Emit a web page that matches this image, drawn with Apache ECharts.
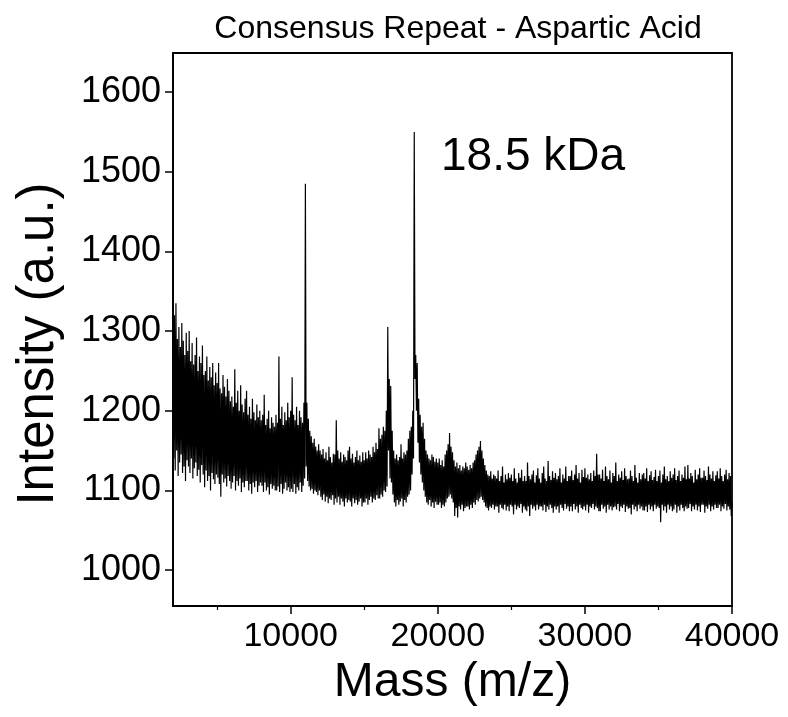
<!DOCTYPE html>
<html><head><meta charset="utf-8">
<script src="https://cdn.jsdelivr.net/npm/echarts@6/dist/echarts.min.js"></script>
<style>html,body{margin:0;padding:0;background:#fff}#c{width:788px;height:717px}</style>
</head><body><div id="c"></div>
<script>
const titleText = 'Consensus Repeat - Aspartic Acid';
const xAxisName = 'Mass (m/z)';
const yAxisName = 'Intensity (a.u.)';
const peakLabel = '18.5 kDa';
const massStart = 2000;
const massStep = 50;
const xTickValues = [10000, 20000, 30000, 40000];
const xMinorTickValues = [5000, 15000, 25000, 35000];
const yTickValues = [1000, 1100, 1200, 1300, 1400, 1500, 1600];
// intensity read every 50 Da from 2000 to 40000 (one row per 1000 Da; alternating upper / lower edge of the noise)
const intensity = [
1295,1140,1320,1125,1335,1150,1290,1118,1305,1135,1280,1145,1310,1122,1288,1130,1270,1112,1298,1138,
1275,1130,1300,1122,1262,1140,1285,1115,1258,1128,1270,1135,1292,1118,1250,1126,1268,1110,1260,1132,
1282,1120,1245,1104,1250,1125,1268,1112,1238,1118,1255,1100,1242,1122,1260,1114,1232,1108,1248,1120,
1235,1116,1260,1108,1228,1092,1222,1120,1245,1110,1230,1115,1218,1105,1240,1118,1225,1112,1212,1102,
1218,1110,1205,1118,1252,1100,1210,1112,1225,1106,1200,1115,1232,1098,1208,1110,1198,1104,1215,1112,
1225,1112,1195,1100,1205,1108,1190,1096,1215,1110,1198,1104,1188,1112,1208,1098,1192,1106,1200,1110,
1188,1106,1195,1098,1220,1110,1182,1100,1190,1104,1200,1095,1178,1108,1192,1102,1185,1106,1180,1100,
1195,1100,1185,1105,1268,1098,1190,1108,1205,1096,1182,1102,1198,1110,1188,1100,1210,1104,1192,1098,
1200,1102,1242,1098,1195,1108,1188,1096,1205,1104,1182,1100,1200,1110,1192,1098,1185,1106,1210,1115,
1485,1130,1210,1112,1190,1105,1175,1100,1168,1102,1160,1096,1165,1100,1155,1098,1150,1094,1158,1100,
1150,1092,1145,1088,1152,1095,1140,1086,1148,1092,1138,1084,1155,1090,1142,1088,1135,1094,1146,1082,
1145,1090,1188,1085,1150,1092,1140,1082,1148,1090,1136,1086,1145,1080,1142,1090,1138,1085,1150,1088,
1155,1086,1140,1080,1146,1090,1135,1084,1142,1088,1150,1082,1138,1086,1144,1090,1136,1080,1148,1085,
1138,1085,1148,1090,1140,1082,1150,1088,1145,1092,1142,1085,1155,1090,1148,1088,1160,1094,1152,1090,
1178,1090,1165,1095,1170,1092,1180,1100,1175,1098,1200,1105,1305,1150,1240,1115,1231,1110,1175,1095,
1150,1085,1140,1080,1145,1088,1138,1082,1142,1086,1158,1090,1140,1080,1148,1088,1145,1085,1150,1092,
1165,1095,1175,1100,1180,1120,1200,1140,1550,1240,1270,1200,1260,1160,1215,1135,1195,1120,1180,1110,
1185,1100,1165,1092,1150,1085,1145,1082,1140,1088,1138,1080,1145,1085,1142,1078,1136,1086,1140,1082,
1135,1082,1140,1085,1132,1078,1138,1082,1130,1080,1145,1085,1150,1090,1158,1092,1172,1095,1155,1090,
1148,1085,1138,1068,1130,1078,1135,1066,1128,1080,1132,1076,1125,1082,1130,1074,1128,1078,1135,1080,
1130,1080,1126,1076,1132,1082,1128,1078,1135,1085,1138,1082,1145,1088,1150,1086,1155,1090,1162,1092,
1150,1088,1140,1085,1132,1080,1125,1078,1120,1075,1118,1080,1124,1078,1115,1082,1120,1076,1118,1080,
1115,1080,1125,1072,1112,1082,1118,1078,1130,1076,1110,1082,1120,1075,1114,1080,1122,1074,1116,1082,
1120,1080,1112,1070,1128,1082,1115,1076,1110,1080,1122,1078,1116,1083,1126,1072,1112,1080,1118,1076,
1112,1074,1135,1080,1118,1068,1114,1082,1120,1077,1125,1080,1110,1075,1119,1082,1128,1076,1115,1080,
1110,1080,1122,1075,1130,1082,1115,1073,1112,1080,1137,1076,1118,1082,1113,1078,1124,1072,1116,1080,
1122,1076,1114,1080,1118,1072,1128,1082,1110,1078,1120,1075,1115,1083,1130,1077,1112,1080,1118,1074,
1118,1080,1125,1074,1113,1083,1120,1076,1132,1080,1115,1072,1122,1082,1110,1078,1126,1076,1117,1080,
1128,1075,1116,1082,1120,1072,1114,1080,1122,1078,1112,1083,1125,1076,1118,1080,1146,1078,1120,1074,
1120,1074,1115,1082,1126,1077,1112,1080,1130,1072,1118,1082,1114,1076,1125,1080,1110,1075,1122,1079,
1118,1080,1135,1076,1112,1083,1120,1074,1116,1080,1124,1078,1113,1082,1128,1073,1118,1080,1114,1077,
1115,1078,1125,1070,1118,1082,1112,1076,1132,1080,1116,1074,1110,1082,1122,1077,1114,1080,1120,1075,
1122,1075,1115,1080,1128,1073,1112,1082,1119,1076,1124,1080,1113,1074,1117,1082,1126,1077,1112,1080,
1118,1078,1125,1060,1110,1082,1120,1075,1130,1080,1114,1072,1118,1082,1112,1076,1124,1080,1116,1074,
1120,1076,1128,1082,1113,1072,1118,1080,1125,1075,1112,1082,1120,1078,1116,1074,1130,1080,1114,1077,
1132,1078,1115,1083,1122,1074,1118,1080,1110,1076,1126,1082,1114,1075,1120,1080,1128,1073,1116,1082,
1116,1082,1125,1072,1118,1080,1113,1077,1130,1082,1120,1074,1115,1080,1124,1076,1112,1082,1119,1078,
1124,1078,1115,1082,1128,1074,1118,1080,1112,1077,1120,1083,1126,1075,1114,1080,1122,1076,1118,1068,
1085
];
const spectrum = intensity.map((v, i) => [massStart + i * massStep, v]);

const FONT = '"Liberation Sans", Arial, Helvetica, sans-serif';
const chart = echarts.init(document.getElementById('c'), null, {renderer: 'canvas'});
chart.setOption({
  animation: false,
  backgroundColor: '#ffffff',
  title: {
    text: titleText, left: 453, top: 8, textAlign: 'center',
    textStyle: {fontFamily: FONT, fontSize: 32, fontWeight: 'normal', color: '#000'}
  },
  grid: {left: 173, top: 53, right: 56, bottom: 111, show: true, borderColor: '#000', borderWidth: 1.8, backgroundColor: 'transparent'},
  xAxis: [{
    type: 'value', min: 2000, max: 40000,
    name: xAxisName, nameLocation: 'middle', nameGap: 53,
    nameTextStyle: {fontFamily: FONT, fontSize: 48, color: '#000'},
    axisLine: {show: true, lineStyle: {color: '#000', width: 1.8}},
    axisTick: {show: true, customValues: xTickValues, length: 8, lineStyle: {color: '#000', width: 1.5}},
    axisLabel: {customValues: xTickValues, formatter: v => String(v), fontFamily: FONT, fontSize: 34, color: '#000', margin: 14},
    splitLine: {show: false}
  }, {
    type: 'value', min: 2000, max: 40000, position: 'bottom',
    axisLine: {show: false},
    axisTick: {show: true, customValues: xMinorTickValues, length: 4, lineStyle: {color: '#000', width: 1.2}},
    axisLabel: {show: false},
    splitLine: {show: false}
  }],
  yAxis: {
    type: 'value', min: 955, max: 1649,
    axisLine: {show: true, lineStyle: {color: '#000', width: 1.8}},
    axisTick: {show: true, customValues: yTickValues, length: 8, lineStyle: {color: '#000', width: 1.5}},
    axisLabel: {customValues: yTickValues, formatter: v => String(v), fontFamily: FONT, fontSize: 36, color: '#000', margin: 12},
    splitLine: {show: false}
  },
  series: [{
    type: 'line', xAxisIndex: 0, data: spectrum, showSymbol: false, symbol: 'none',
    sampling: null, lineStyle: {color: '#000', width: 1.2}, z: 3
  }],
  graphic: [{
    type: 'text', x: 39, y: 344, rotation: Math.PI / 2,
    style: {text: yAxisName, fontFamily: FONT, fontSize: 51, fill: '#000', align: 'center', verticalAlign: 'middle'}
  }, {
    type: 'text', left: 441, top: 134,
    style: {text: peakLabel, fontFamily: FONT, fontSize: 46, fill: '#000'}
  }]
});
</script></body></html>
